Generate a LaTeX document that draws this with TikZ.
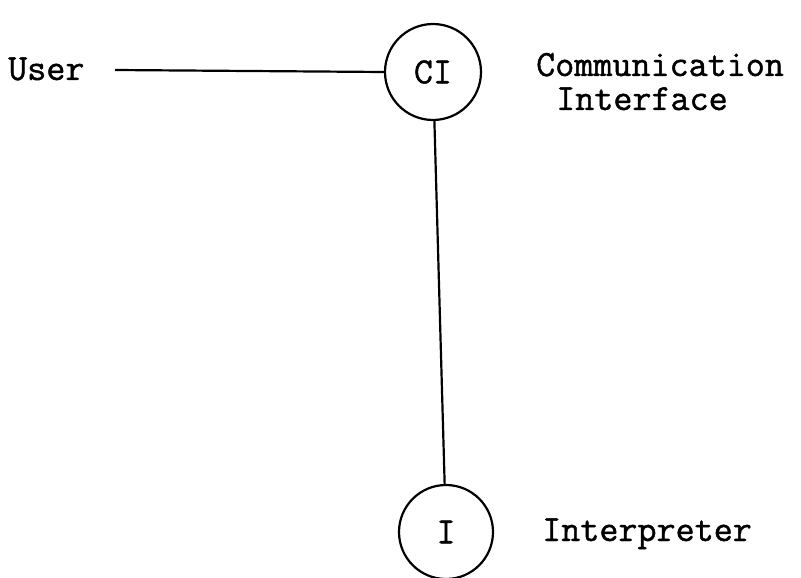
\documentclass[tikz,border=0pt]{standalone}
\usepackage{fontspec}
\setmonofont[FakeBold=1.2]{Latin Modern Mono}
\begin{document}
\begin{tikzpicture}[x=1pt,y=-1pt,
  lbl/.style={font=\ttfamily\fontsize{37}{40}\selectfont, inner sep=0pt, anchor=base west},
  circ/.style={draw, circle, line width=2.2pt, minimum size=96pt, inner sep=0pt, font=\ttfamily\fontsize{37}{40}\selectfont},
  conn/.style={line width=2.2pt}]
\useasboundingbox (0,0) rectangle (801,578);
\node[circ] (ci) at (433,72) {CI};
\node[circ, minimum size=94pt] (i) at (446,532) {I};
\node[lbl] (user) at (8,80) {User};
\coordinate (ustart) at (115,70);
\node[lbl] (comm) at (536,76) {Communication};
\node[lbl] (intf) at (556,110) {Interface};
\node[lbl] (interp) at (542,541) {Interpreter};
\draw[conn] (ustart) -- (ci.west);
\draw[conn] (ci) -- (i);
\end{tikzpicture}
\end{document}
